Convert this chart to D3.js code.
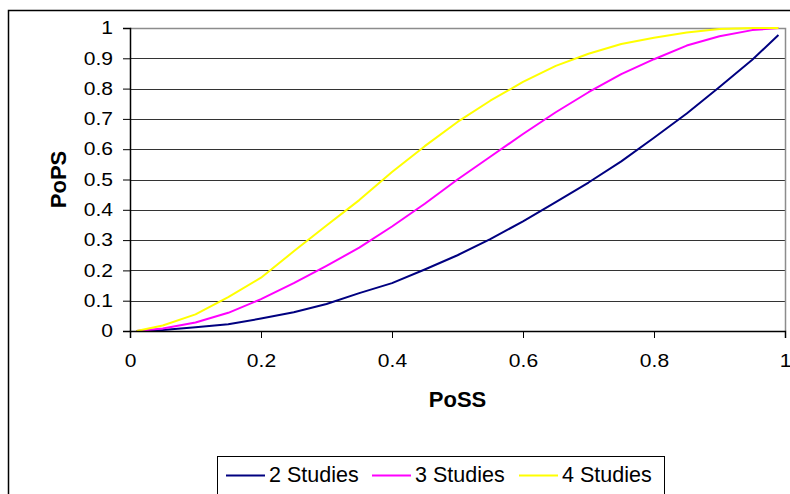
<!DOCTYPE html>
<html>
<head>
<meta charset="utf-8">
<script src="https://cdn.jsdelivr.net/npm/d3@7"></script>
<style>
  body { margin: 0; background: #fff; }
  text { font-family: Arial, "Liberation Sans", sans-serif; }
</style>
</head>
<body>
<div id="chart"></div>
<script>
// PoSS values the curves were sampled at
const possValues = [0.01, 0.05, 0.10, 0.15, 0.20, 0.25, 0.30, 0.35, 0.40, 0.45, 0.50,
                    0.55, 0.60, 0.65, 0.70, 0.75, 0.80, 0.85, 0.90, 0.95, 0.99];

// PoPS for each number of studies
const pops2 = [0, 0.003, 0.012, 0.022, 0.041, 0.062, 0.089, 0.125, 0.158, 0.203, 0.250,
               0.303, 0.362, 0.425, 0.490, 0.560, 0.638, 0.718, 0.805, 0.895, 0.977];
const pops3 = [0, 0.008, 0.028, 0.060, 0.105, 0.158, 0.215, 0.275, 0.345, 0.420, 0.500,
               0.575, 0.650, 0.722, 0.788, 0.848, 0.897, 0.942, 0.973, 0.993, 1.0];
const pops4 = [0, 0.018, 0.055, 0.112, 0.176, 0.263, 0.348, 0.432, 0.525, 0.610, 0.690,
               0.760, 0.822, 0.875, 0.915, 0.947, 0.968, 0.985, 0.997, 1.0, 1.0];

const seriesNames = ['2 Studies', '3 Studies', '4 Studies'];
const seriesColors = ['#000080', '#ff00ff', '#ffff00'];
const xTicks = [0, 0.2, 0.4, 0.6, 0.8, 1];
const yTicks = [0, 0.1, 0.2, 0.3, 0.4, 0.5, 0.6, 0.7, 0.8, 0.9, 1];

const dimensions = {
  width: 790,
  height: 494,
  margin: { top: 28, left: 130, right: 5, bottom: 163 }
};
dimensions.ctrWidth = dimensions.width - dimensions.margin.left - dimensions.margin.right;
dimensions.ctrHeight = dimensions.height - dimensions.margin.top - dimensions.margin.bottom;

// the tick digits in the original are a bit wider than plain Arial
const tickStretch = 1.17;

const svg = d3.select('#chart')
  .append('svg')
  .attr('width', dimensions.width)
  .attr('height', dimensions.height);

// outer chart border (runs off the right and bottom edges)
svg.append('rect')
  .attr('x', 8.5).attr('y', 10.5)
  .attr('width', 900).attr('height', 600)
  .attr('fill', 'none')
  .attr('stroke', '#000')
  .attr('stroke-width', 1.5);

const ctr = svg.append('g')
  .attr('transform', `translate(${dimensions.margin.left}, ${dimensions.margin.top})`);

const xScale = d3.scaleLinear().domain([0, 1]).range([0, dimensions.ctrWidth]);
const yScale = d3.scaleLinear().domain([0, 1]).range([dimensions.ctrHeight, 0]);

// gridlines
ctr.append('g')
  .selectAll('line')
  .data(yTicks.filter(d => d > 0 && d < 1))
  .join('line')
  .attr('x1', 0)
  .attr('x2', dimensions.ctrWidth)
  .attr('y1', d => Math.round(yScale(d)) + 0.5)
  .attr('y2', d => Math.round(yScale(d)) + 0.5)
  .attr('stroke', '#333')
  .attr('stroke-width', 1);

// plot area frame: grey on top and right
ctr.append('path')
  .attr('d', `M0,0.5H${dimensions.ctrWidth + 0.5}V${dimensions.ctrHeight}`)
  .attr('fill', 'none')
  .attr('stroke', '#8c8c8c')
  .attr('stroke-width', 1.5);

// series lines
const allSeries = [pops2, pops3, pops4];
const line = d3.line()
  .x((d, i) => xScale(possValues[i]))
  .y(d => yScale(d));

ctr.append('g')
  .selectAll('path')
  .data(allSeries)
  .join('path')
  .attr('d', d => line(d))
  .attr('fill', 'none')
  .attr('stroke', (d, i) => seriesColors[i])
  .attr('stroke-width', 2)
  .attr('stroke-linejoin', 'round');

// axes
const xAxis = d3.axisBottom(xScale)
  .tickValues(xTicks)
  .tickSize(7)
  .tickPadding(16)
  .tickFormat(d => d3.format('')(d));

const xAxisGroup = ctr.append('g')
  .attr('transform', `translate(0, ${dimensions.ctrHeight})`)
  .call(xAxis);

const yAxis = d3.axisLeft(yScale)
  .tickValues(yTicks)
  .tickSize(7)
  .tickPadding(10)
  .tickFormat(d => d3.format('')(d));

const yAxisGroup = ctr.append('g')
  .call(yAxis);

[xAxisGroup, yAxisGroup].forEach(g => {
  g.select('.domain').attr('stroke', '#000').attr('stroke-width', 1.5);
  g.selectAll('.tick line').attr('stroke', '#000');
  g.selectAll('.tick text')
    .attr('fill', '#000')
    .style('font-size', '18px')
    .style('font-family', 'Arial, "Liberation Sans", sans-serif');
});

// widen the digits; keep the y labels' right edge where it was
xAxisGroup.selectAll('.tick text')
  .attr('transform', `scale(${tickStretch}, 1)`);
yAxisGroup.selectAll('.tick text')
  .attr('x', -17 / tickStretch)
  .attr('transform', `scale(${tickStretch}, 1)`);

// axis titles
xAxisGroup.append('text')
  .attr('x', dimensions.ctrWidth / 2)
  .attr('y', 76)
  .attr('fill', '#000')
  .attr('text-anchor', 'middle')
  .style('font-size', '22px')
  .style('font-weight', 'bold')
  .text('PoSS');

yAxisGroup.append('text')
  .attr('x', -yScale(0.5))
  .attr('y', -64)
  .attr('fill', '#000')
  .attr('text-anchor', 'middle')
  .style('font-size', '22px')
  .style('font-weight', 'bold')
  .style('transform', 'rotate(270deg)')
  .text('PoPS');

// legend
const legend = svg.append('g').attr('transform', 'translate(217, 456)');

legend.append('rect')
  .attr('x', 0.5).attr('y', 0.5)
  .attr('width', 447).attr('height', 60)
  .attr('fill', '#fff')
  .attr('stroke', '#000');

const legendX = [9, 155, 302];
const items = legend.selectAll('g.item')
  .data(seriesNames)
  .join('g')
  .attr('class', 'item')
  .attr('transform', (d, i) => `translate(${legendX[i]}, 0)`);

items.append('line')
  .attr('x1', 0).attr('x2', 39)
  .attr('y1', 19.5).attr('y2', 19.5)
  .attr('stroke', (d, i) => seriesColors[i])
  .attr('stroke-width', 2);

items.append('text')
  .attr('x', 43)
  .attr('y', 25.5)
  .attr('fill', '#000')
  .style('font-size', '21.5px')
  .text(d => d);
</script>
</body>
</html>
